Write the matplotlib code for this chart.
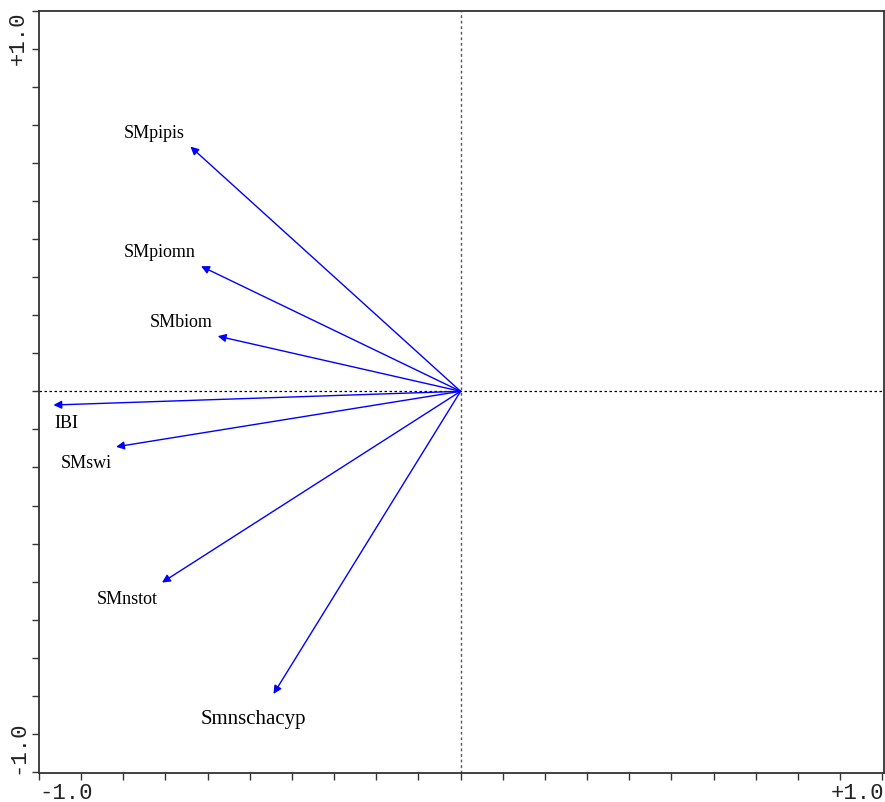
import numpy as np
import matplotlib.pyplot as plt

# variable loadings (arrow tips)
names = ['SMpipis', 'SMpiomn', 'SMbiom', 'IBI', 'SMswi', 'SMnstot', 'Smnschacyp']
load_x = [-0.712, -0.684, -0.640, -1.073, -0.908, -0.787, -0.493]
load_y = [0.714, 0.365, 0.161, -0.040, -0.162, -0.558, -0.883]

# label anchor positions (data units)
lab_x = [-0.807, -0.793, -0.736, -1.040, -0.987, -0.879, -0.547]
lab_y = [0.755, 0.408, 0.204, -0.090, -0.207, -0.606, -0.956]
lab_size = [13, 13, 13, 13, 13, 13, 15]

fig = plt.figure(figsize=(8.85, 8.03), dpi=100)
ax = fig.add_axes([39 / 885, 1 - 774 / 803, 845 / 885, 762.5 / 803])
ax.set_xlim(-1.111, 1.116)
ax.set_ylim(-1.1137, 1.109)

ax.axhline(0, color='black', lw=0.9, ls=(0, (2, 2)), zorder=1)
ax.axvline(0, color='#555555', lw=1.0, ls=(0, (2, 2)), zorder=1)

for x, y in zip(load_x, load_y):
    ax.annotate('', xy=(x, y), xytext=(0, 0),
                arrowprops=dict(arrowstyle='-|>', color='#0000ff', lw=1.0,
                                mutation_scale=12, shrinkA=0, shrinkB=0))

for n, x, y, s in zip(names, lab_x, lab_y, lab_size):
    ax.text(x, y, n, ha='center', va='center', fontsize=s,
            family='Liberation Serif', color='black')

ticks = np.arange(-10, 11) / 9
ax.set_xticks(ticks)
ax.set_yticks(ticks)
ax.set_xticklabels([])
ax.set_yticklabels([])
ax.tick_params(direction='out', length=5, width=1, color='#333333')
for sp in ax.spines.values():
    sp.set_color('#333333')
    sp.set_linewidth(1.3)

mono = dict(family='Liberation Mono', fontsize=16, color='#222222')
ax.text(0.0, -0.012, '-1.0', transform=ax.transAxes, ha='left', va='top', **mono)
ax.text(1.0, -0.012, '+1.0', transform=ax.transAxes, ha='right', va='top', **mono)
ax.text(-0.012, 1.0, '+1.0', transform=ax.transAxes, ha='right', va='top',
        rotation=90, **mono)
ax.text(-0.012, 0.0, '-1.0', transform=ax.transAxes, ha='right', va='bottom',
        rotation=90, **mono)

fig.savefig('out.png', dpi=100)
